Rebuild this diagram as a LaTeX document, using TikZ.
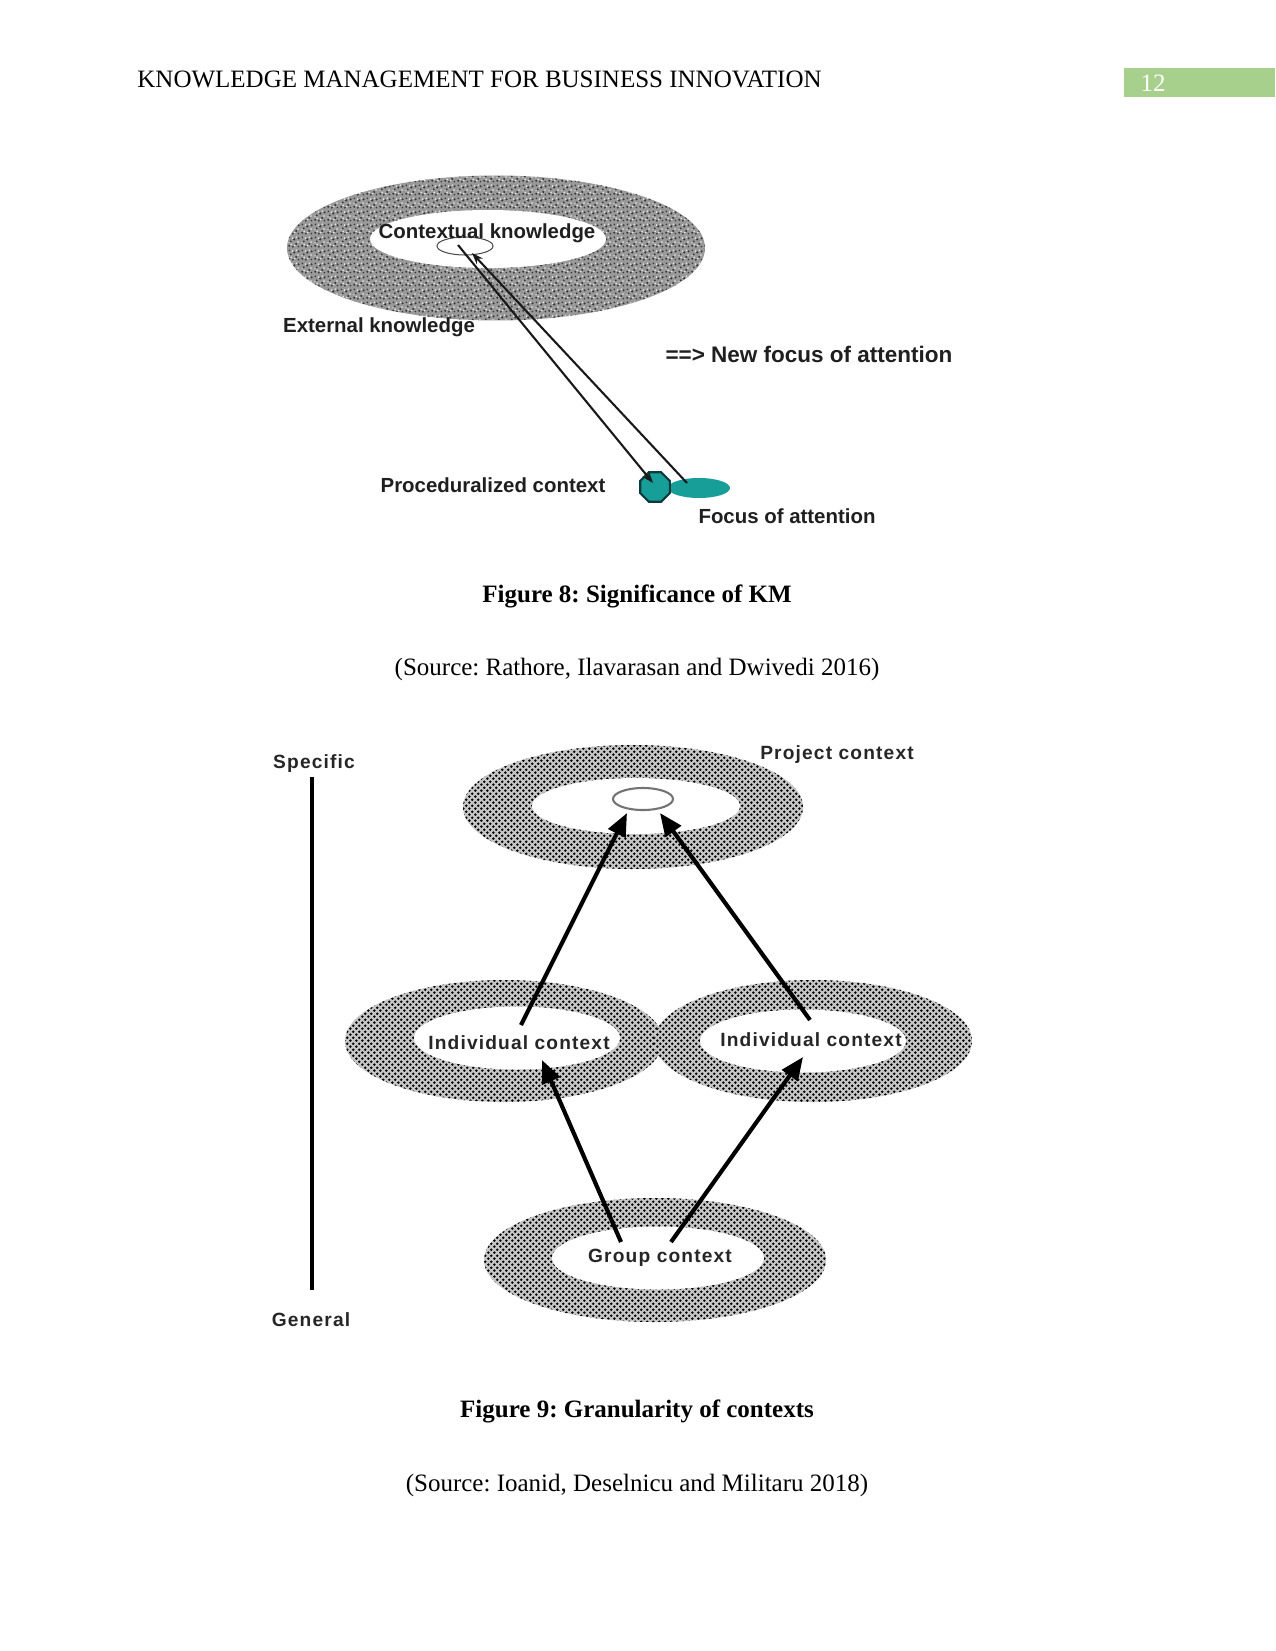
\documentclass[tikz,border=0pt]{standalone}
\usepackage{fontspec}
\setmainfont{Liberation Serif}
\newfontfamily\figA{Liberation Sans}
\newfontfamily\figB[LetterSpace=6]{Liberation Sans}
\usetikzlibrary{shapes.geometric,arrows.meta,patterns}
\definecolor{hdrgreen}{RGB}{168,208,141}
\definecolor{tealfill}{RGB}{24,158,152}
\definecolor{tealdark}{RGB}{10,60,60}
\newcommand\pxl[1]{#1*0.48pt}
\frenchspacing
\pgfdeclarepatternformonly{stipple}{\pgfqpoint{0pt}{0pt}}{\pgfqpoint{3pt}{3pt}}{\pgfqpoint{3pt}{3pt}}{%
  \pgfpathcircle{\pgfqpoint{0.75pt}{0.75pt}}{0.74pt}%
  \pgfpathcircle{\pgfqpoint{2.25pt}{2.25pt}}{0.74pt}%
  \pgfusepath{fill}}
\pgfdeclarepatternformonly{granite}{\pgfqpoint{0pt}{0pt}}{\pgfqpoint{6pt}{6pt}}{\pgfqpoint{6pt}{6pt}}{%
  \pgfpathcircle{\pgfqpoint{0.6pt}{1.1pt}}{0.55pt}%
  \pgfpathcircle{\pgfqpoint{2.4pt}{0.6pt}}{0.5pt}%
  \pgfpathcircle{\pgfqpoint{4.1pt}{2.0pt}}{0.6pt}%
  \pgfpathcircle{\pgfqpoint{1.4pt}{3.3pt}}{0.5pt}%
  \pgfpathcircle{\pgfqpoint{3.1pt}{4.3pt}}{0.6pt}%
  \pgfpathcircle{\pgfqpoint{5.3pt}{4.8pt}}{0.55pt}%
  \pgfpathcircle{\pgfqpoint{0.7pt}{5.3pt}}{0.45pt}%
  \pgfpathcircle{\pgfqpoint{5.2pt}{0.7pt}}{0.45pt}%
  \pgfusepath{fill}}
\pgfdeclarepatternformonly{granitelight}{\pgfqpoint{0pt}{0pt}}{\pgfqpoint{6pt}{6pt}}{\pgfqpoint{6pt}{6pt}}{%
  \pgfpathcircle{\pgfqpoint{1.6pt}{1.8pt}}{0.45pt}%
  \pgfpathcircle{\pgfqpoint{3.4pt}{1.2pt}}{0.4pt}%
  \pgfpathcircle{\pgfqpoint{5.0pt}{3.0pt}}{0.45pt}%
  \pgfpathcircle{\pgfqpoint{2.3pt}{4.9pt}}{0.45pt}%
  \pgfpathcircle{\pgfqpoint{0.5pt}{2.6pt}}{0.35pt}%
  \pgfpathcircle{\pgfqpoint{4.2pt}{5.4pt}}{0.4pt}%
  \pgfusepath{fill}}
\tikzset{
  lab8/.style={font=\figA\bfseries\fontsize{9.8}{11}\selectfont, inner sep=0pt, text=black!88},
  lab9/.style={font=\figB\bfseries\fontsize{9.2}{11}\selectfont, inner sep=0pt, text=black!85},
  capt/.style={font=\bfseries\fontsize{12}{14}\selectfont, inner sep=0pt},
  srce/.style={font=\fontsize{12}{14}\selectfont, inner sep=0pt},
  ring8/.style={ellipse, draw=none, inner sep=0pt, outer sep=0pt, fill=black!40,
    postaction={pattern=granite, pattern color=black!78},
    postaction={pattern=granitelight, pattern color=white!92!black}},
  ring9/.style={ellipse, draw=none, inner sep=0pt, outer sep=0pt, fill=black!22,
    postaction={pattern=stipple, pattern color=black}},
  hole/.style={ellipse, draw=none, fill=white, inner sep=0pt, outer sep=0pt},
  smallell/.style={ellipse, fill=white, inner sep=0pt, outer sep=0pt},
  thinarrow/.style={line width=1pt, black!90, -{Stealth[length=5.5pt,width=4pt]}},
  thickarrow/.style={line width=2pt, black, -{Triangle[length=11pt,width=9pt]}},
}
\begin{document}
\begin{tikzpicture}[x=0.48pt,y=-0.48pt]
\useasboundingbox (0,0) rectangle (1275,1651);
\fill[white] (0,0) rectangle (1275,1651);

% ---------- header ----------
\node[srce, anchor=west] (hdr) at (137,79) {KNOWLEDGE MANAGEMENT FOR BUSINESS INNOVATION};
\node[fill=hdrgreen, minimum width=\pxl{151}, minimum height=\pxl{29}, inner sep=0pt, anchor=north west] (pgbox) at (1124,68) {};
\node[srce, text=white] (pgnum) at (1153,83) {12};

% ---------- Figure 8 ----------
\node[ring8, minimum width=\pxl{418}, minimum height=\pxl{145}] (extring) at (496,248) {};
\node[hole, minimum width=\pxl{236}, minimum height=\pxl{58}] (ctxhole) at (488,239) {};
\node[smallell, draw=black!70, line width=0.5pt, minimum width=\pxl{56}, minimum height=\pxl{18}] (ctxsmall) at (465,246) {};
\node[lab8] (ctxlab) at (487,233) {Contextual knowledge};
\node[lab8] (extlab) at (379,327) {External knowledge};
\node[lab8, font=\figA\bfseries\fontsize{10.8}{12}\selectfont] (newfoc) at (809,354) {==> New focus of attention};
\node[lab8] (proclab) at (493,485) {Proceduralized context};
\node[lab8] (foclab) at (787,516) {Focus of attention};
\node[ellipse, fill=tealfill, inner sep=0pt, minimum width=\pxl{62}, minimum height=\pxl{20}] (focell) at (699,488) {};
\node[regular polygon, regular polygon sides=8, fill=tealfill, draw=tealdark, line width=1pt, inner sep=0pt, minimum size=\pxl{32}] (oct) at (655,487) {};
\coordinate (ckA) at (458,245);
\coordinate (ckB) at (472,253);
\coordinate (octin) at (653,483);
\coordinate (focin) at (687,483);
\draw[thinarrow] (ckA) -- (octin);
\draw[thinarrow] (focin) -- (ckB);

\node[capt] (cap8) at (637,596) {Figure 8: Significance of KM};
\node[srce] (src8) at (637,669) {(Source: Rathore, Ilavarasan and Dwivedi 2016)};

% ---------- Figure 9 ----------
\node[lab9] (spec) at (314,764) {Specific};
\node[lab9] (gen) at (311,1320) {General};
\coordinate (axtop) at (312,777);
\coordinate (axbot) at (312,1290);
\draw[line width=2pt] (axtop) -- (axbot);

\node[ring9, minimum width=\pxl{340}, minimum height=\pxl{124}] (projring) at (633,807) {};
\node[ring9, minimum width=\pxl{318}, minimum height=\pxl{122}] (indLring) at (504,1041) {};
\node[ring9, minimum width=\pxl{318}, minimum height=\pxl{122}] (indRring) at (813,1041) {};
\node[ring9, minimum width=\pxl{342}, minimum height=\pxl{124}] (grpring) at (655,1260) {};

\node[hole, minimum width=\pxl{208}, minimum height=\pxl{56}] (projhole) at (636,806) {};
\node[hole, minimum width=\pxl{206}, minimum height=\pxl{63}] (indLhole) at (517,1038) {};
\node[hole, minimum width=\pxl{206}, minimum height=\pxl{63}] (indRhole) at (803,1041) {};
\node[hole, minimum width=\pxl{212}, minimum height=\pxl{63}] (grphole) at (658,1258) {};

\node[smallell, draw=black!55, line width=1pt, minimum width=\pxl{60}, minimum height=\pxl{22}] (projsmall) at (643,799) {};

\node[lab9] (projlab) at (837,755) {Project context};
\node[lab9] (indLlab) at (519,1043) {Individual context};
\node[lab9] (indRlab) at (811,1040) {Individual context};
\node[lab9] (grplab) at (660,1258) {Group context};

\coordinate (projL) at (627,813);
\coordinate (projR) at (660,813);
\coordinate (indLtop) at (521,1025);
\coordinate (indRtop) at (810,1020);
\coordinate (indLbot) at (542,1060);
\coordinate (indRbot) at (803,1057);
\coordinate (grpL) at (621,1242);
\coordinate (grpR) at (671,1242);
\draw[thickarrow] (indLtop) -- (projL);
\draw[thickarrow] (indRtop) -- (projR);
\draw[thickarrow] (grpL) -- (indLbot);
\draw[thickarrow] (grpR) -- (indRbot);

\node[capt] (cap9) at (637,1411) {Figure 9: Granularity of contexts};
\node[srce] (src9) at (637,1485) {(Source: Ioanid, Deselnicu and Militaru 2018)};
\end{tikzpicture}
\end{document}
